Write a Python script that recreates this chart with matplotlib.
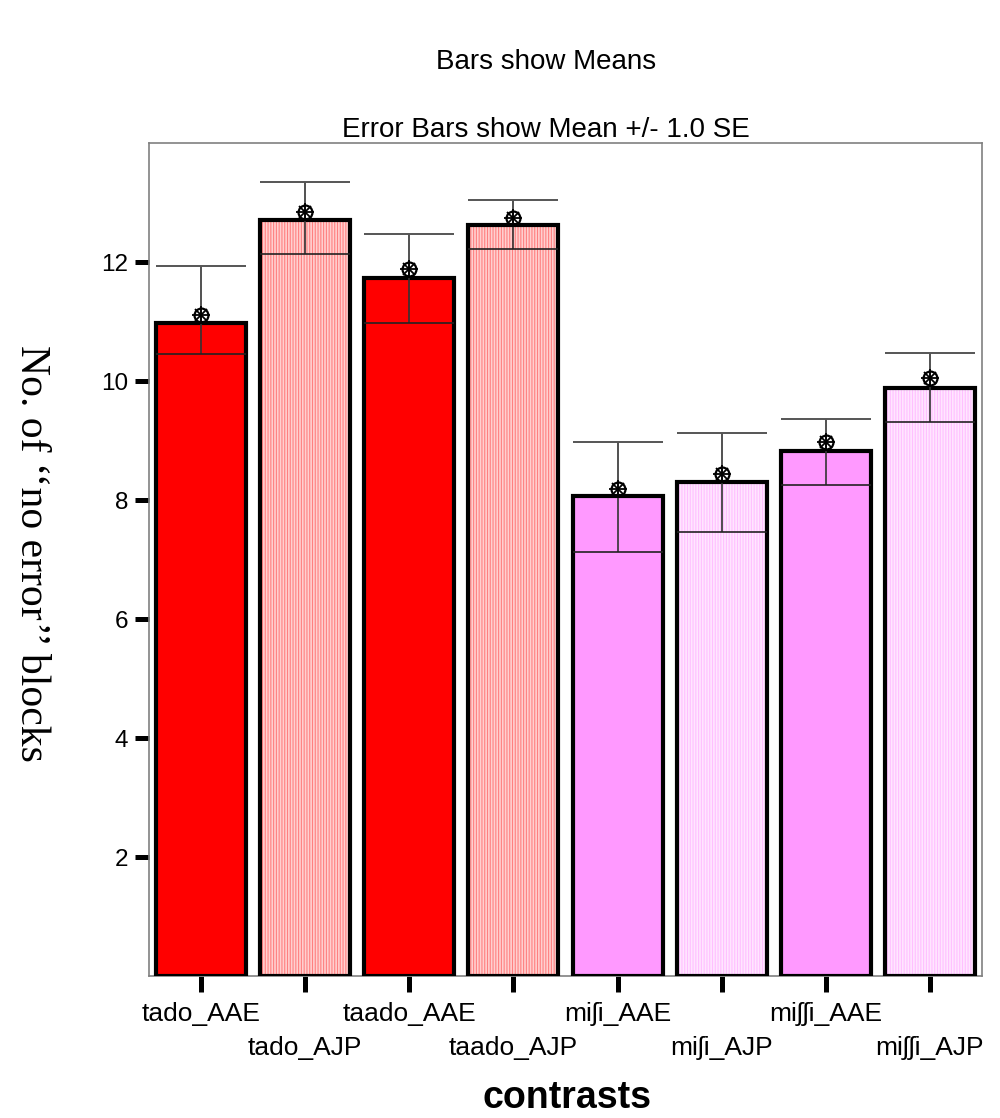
import matplotlib
matplotlib.use("Agg")
import matplotlib.pyplot as plt
import numpy as np

# datos
categories = ["tado_AAE", "tado_AJP", "taado_AAE", "taado_AJP",
              "mi\u0283i_AAE", "mi\u0283i_AJP", "mi\u0283\u0283i_AAE", "mi\u0283\u0283i_AJP"]
bar_values = [10.97, 12.70, 11.74, 12.62, 8.06, 8.30, 8.83, 9.89]
mean_marks = [11.11, 12.84, 11.88, 12.74, 8.19, 8.44, 8.97, 10.05]
err_upper = [11.93, 13.34, 12.47, 13.05, 8.98, 9.12, 9.36, 10.48]
err_lower = [10.46, 12.13, 10.97, 12.22, 7.13, 7.47, 8.25, 9.32]
y_ticks = [2, 4, 6, 8, 10, 12]

face_colors = ["#ff0000", "#ffd0d0", "#ff0000", "#ffd0d0", "#ff99ff", "#ffe6ff", "#ff99ff", "#ffe6ff"]
stripe_colors = ["#ff0000", "#ff8080", "#ff0000", "#ff8080", "#ff99ff", "#ffbfff", "#ff99ff", "#ffbfff"]
hatches = ["", "||||||", "", "||||||", "", "||||||", "", "||||||"]

plt.rcParams['font.family'] = ['Liberation Sans', 'DejaVu Sans']
plt.rcParams['hatch.linewidth'] = 0.8

fig = plt.figure(figsize=(10, 11.18), dpi=100)
ax = fig.add_axes([0.149, 0.127, 0.833, 0.745])

x = np.arange(len(categories))
width = 0.865

# relleno con rayas verticales
for i in range(len(categories)):
    ax.bar(x[i], bar_values[i], width=width, color=face_colors[i],
           edgecolor=stripe_colors[i], hatch=hatches[i], linewidth=0, zorder=2)
# contorno negro
ax.bar(x, bar_values, width=width, fill=False, edgecolor="black", linewidth=3, zorder=3)

# barras de error
ax.vlines(x, err_lower, err_upper, color="#333333", linewidth=1.2, zorder=4)
ax.hlines(err_upper, x - width / 2, x + width / 2, color="#555555", linewidth=1.4, zorder=4)
ax.hlines(err_lower, x - width / 2, x + width / 2, color="#222222", linewidth=1.2, zorder=4)

# marcador de la media
ax.plot(x, mean_marks, linestyle="none", marker="o", ms=10, mfc="none", mec="black", mew=1.6, zorder=5)
ax.plot(x, mean_marks, linestyle="none", marker="+", ms=13, mec="black", mew=1.3, zorder=5)
ax.plot(x, mean_marks, linestyle="none", marker="x", ms=8, mec="black", mew=1.3, zorder=5)

ax.set_xlim(-0.5, 7.5)
ax.set_ylim(0, 14)
ax.set_yticks(y_ticks)
ax.set_yticklabels([str(t) for t in y_ticks], fontsize=17.5)
ax.tick_params(axis="y", length=10, width=3.6, pad=5)

ax.set_xticks(x)
ax.set_xticklabels(categories, fontsize=19)
ax.tick_params(axis="x", length=11.5, width=3.6, pad=7)
# etiquetas alternadas en dos filas
for i, tick in enumerate(ax.xaxis.get_major_ticks()):
    if i % 2 == 1:
        tick.set_pad(31.5)

for s in ax.spines.values():
    s.set_color("#808080")
    s.set_linewidth(1.2)

fig.text(0.546, 1 - 62 / 1118, "Bars show Means", ha="center", va="center", fontsize=20)
fig.text(0.546, 1 - 130 / 1118, "Error Bars show Mean +/- 1.0 SE", ha="center", va="center", fontsize=20)
fig.text(0.567, 1 - 1108 / 1118, "contrasts", ha="center", va="baseline", fontsize=27, fontweight="bold")
fig.text(0.031, 1 - 553 / 1118, "No. of \u2018\u2018no error\u2019\u2019 blocks", rotation=-90,
         ha="center", va="center", fontsize=30, family="Liberation Serif")

fig.savefig("out.png", dpi=100, facecolor="white")
